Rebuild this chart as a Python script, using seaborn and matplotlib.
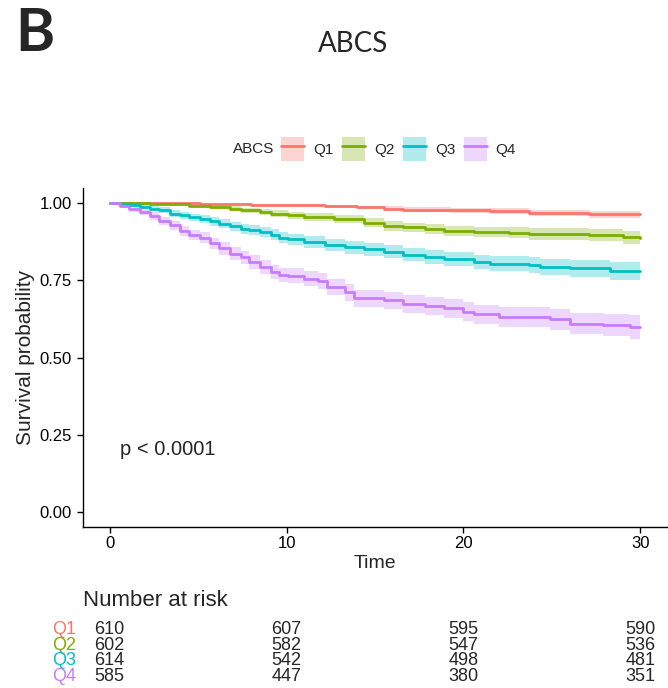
import numpy as np
import pandas as pd
import matplotlib
matplotlib.use("Agg")
import matplotlib.pyplot as plt
from matplotlib.patches import Patch
from matplotlib.lines import Line2D
from matplotlib.colors import to_rgba
import seaborn as sns

# ---- Kaplan-Meier estimates by ABCS quartile ----
groups = ["Q1", "Q2", "Q3", "Q4"]
colors = ["#F8766D", "#7CAE00", "#00BFC4", "#C77CFF"]

q1_time = [0, 5.1, 8.0, 10.0, 12.2, 14.0, 15.5, 16.6, 19.3, 21.5, 23.7, 27.1, 30]
q1_surv = [1.0, 0.997, 0.996, 0.995, 0.990, 0.987, 0.983, 0.980, 0.978, 0.975, 0.969, 0.965, 0.965]
q1_ci = [0, 0.002, 0.003, 0.003, 0.005, 0.006, 0.007, 0.008, 0.008, 0.009, 0.010, 0.011, 0.012]

q2_time = [0, 2.3, 3.1, 4.5, 5.7, 6.8, 7.4, 8.5, 9.1, 10.1, 11.0, 12.7, 14.4, 15.5, 16.6,
           17.8, 18.9, 20.6, 22.6, 23.7, 27.1, 29.0, 30]
q2_surv = [1.0, 0.999, 0.997, 0.992, 0.989, 0.983, 0.978, 0.972, 0.967, 0.962, 0.956, 0.949,
           0.938, 0.927, 0.922, 0.918, 0.911, 0.908, 0.905, 0.900, 0.897, 0.890, 0.889]
q2_ci = [0, 0.001, 0.003, 0.005, 0.006, 0.007, 0.008, 0.009, 0.010, 0.011, 0.012, 0.013,
         0.014, 0.015, 0.016, 0.016, 0.017, 0.017, 0.018, 0.019, 0.020, 0.022, 0.024]

q3_time = [0, 0.6, 1.1, 1.7, 2.3, 2.8, 3.4, 4.0, 4.5, 5.1, 5.7, 6.2, 6.8, 7.4, 7.9, 8.5, 9.1,
           9.6, 10.1, 11.0, 12.2, 13.3, 14.4, 15.5, 16.6, 17.8, 18.9, 20.6, 21.5, 23.7, 24.3,
           26.0, 28.3, 30]
q3_surv = [1.0, 0.997, 0.994, 0.989, 0.983, 0.978, 0.967, 0.962, 0.955, 0.949, 0.942, 0.934,
           0.926, 0.918, 0.913, 0.908, 0.899, 0.888, 0.884, 0.875, 0.864, 0.857, 0.851, 0.843,
           0.834, 0.826, 0.819, 0.810, 0.804, 0.800, 0.793, 0.789, 0.782, 0.782]
q3_ci = [0, 0.003, 0.005, 0.006, 0.008, 0.009, 0.010, 0.011, 0.012, 0.013, 0.014, 0.015,
         0.015, 0.016, 0.016, 0.017, 0.017, 0.018, 0.018, 0.019, 0.020, 0.020, 0.021, 0.021,
         0.022, 0.022, 0.023, 0.024, 0.024, 0.025, 0.026, 0.027, 0.029, 0.031]

q4_time = [0, 0.6, 1.1, 1.7, 2.3, 2.8, 3.4, 4.0, 4.5, 5.1, 5.7, 6.2, 6.8, 7.4, 7.9, 8.5, 9.1,
           9.6, 10.1, 11.0, 11.8, 12.3, 13.3, 13.8, 15.5, 16.6, 17.8, 18.9, 20.0, 20.6, 22.0,
           24.9, 26.0, 27.9, 29.4, 30]
q4_surv = [1.0, 0.992, 0.981, 0.972, 0.959, 0.942, 0.929, 0.910, 0.897, 0.888, 0.870, 0.854,
           0.837, 0.826, 0.810, 0.794, 0.778, 0.769, 0.765, 0.756, 0.748, 0.729, 0.711, 0.692,
           0.686, 0.675, 0.668, 0.659, 0.648, 0.640, 0.631, 0.624, 0.610, 0.605, 0.599, 0.599]
q4_ci = [0, 0.005, 0.008, 0.010, 0.012, 0.013, 0.015, 0.016, 0.017, 0.018, 0.019, 0.020,
         0.020, 0.021, 0.022, 0.022, 0.023, 0.023, 0.024, 0.025, 0.025, 0.026, 0.027, 0.027,
         0.028, 0.029, 0.029, 0.030, 0.031, 0.031, 0.032, 0.034, 0.035, 0.036, 0.038, 0.040]

# Number at risk at the x-axis breaks
risk_times = [0, 10, 20, 30]
risk_q1 = [610, 607, 595, 590]
risk_q2 = [602, 582, 547, 536]
risk_q3 = [614, 542, 498, 481]
risk_q4 = [585, 447, 380, 351]

x_ticks = [0, 10, 20, 30]
y_ticks = [0.00, 0.25, 0.50, 0.75, 1.00]
p_label = "p < 0.0001"

series = {
    "Q1": (q1_time, q1_surv, q1_ci),
    "Q2": (q2_time, q2_surv, q2_ci),
    "Q3": (q3_time, q3_surv, q3_ci),
    "Q4": (q4_time, q4_surv, q4_ci),
}
risk = {"Q1": risk_q1, "Q2": risk_q2, "Q3": risk_q3, "Q4": risk_q4}

frames = []
for g, (t, s, c) in series.items():
    frames.append(pd.DataFrame({"time": t, "surv": s, "ci": c, "strata": g}))
df = pd.concat(frames, ignore_index=True)
df["lower"] = df["surv"] - df["ci"]
df["upper"] = np.minimum(df["surv"] + df["ci"], 1.0)

# ---- style ----
sns.set_style("ticks")
plt.rcParams["font.family"] = ["Liberation Sans", "DejaVu Sans"]
plt.rcParams["axes.linewidth"] = 1.0

W, H = 668, 688
fig = plt.figure(figsize=(W / 100, H / 100), dpi=100)

def fx(px):
    return px / W

def fy(py):
    return 1 - py / H

ax = fig.add_axes([fx(83), fy(527), fx(667) - fx(83), fy(188) - fy(527)])

palette = dict(zip(groups, colors))
for g in groups:
    sub = df[df["strata"] == g]
    ax.fill_between(sub["time"], sub["lower"], sub["upper"], step="post",
                    color=palette[g], alpha=0.3, linewidth=0)

sns.lineplot(data=df, x="time", y="surv", hue="strata", palette=palette,
             estimator=None, sort=False, drawstyle="steps-post", linewidth=2.0,
             legend=False, ax=ax)

ax.set_xlim(-1.5, 31.5)
ax.set_ylim(-0.05, 1.05)
ax.set_xticks(x_ticks)
ax.set_yticks(y_ticks)
ax.set_yticklabels([f"{v:.2f}" for v in y_ticks])
ax.tick_params(axis="both", length=4.3, width=1.0, labelsize=12, colors="black",
               labelcolor="black")
ax.tick_params(axis="y", pad=3.6)
ax.tick_params(axis="x", pad=2)
ax.set_xlabel("Time", fontsize=14, labelpad=3)
ax.set_ylabel("Survival probability", fontsize=15, labelpad=3)
for side in ["top", "right"]:
    ax.spines[side].set_visible(False)
for side in ["left", "bottom"]:
    ax.spines[side].set_color("black")

ax.text(0.6, 0.2, p_label, fontsize=14.5, ha="left", va="center")

# ---- legend ----
fig.text(fx(233), fy(149), "ABCS", fontsize=11, ha="left", va="center")
handles = [(Patch(facecolor=to_rgba(c, 0.3), edgecolor="none"),
            Line2D([], [], color=c, linewidth=2.0)) for c in colors]
fig.legend(handles, groups, loc="center left", bbox_to_anchor=(fx(281), fy(149)),
           ncol=4, frameon=False, fontsize=11, handlelength=1.5, handleheight=1.95,
           handletextpad=0.6, columnspacing=0.55, borderpad=0, borderaxespad=0)

# ---- titles ----
fig.text(fx(15), fy(34), "B", fontsize=43, fontweight="bold", family="Lato",
         ha="left", va="center")
fig.text(fx(353), fy(44), "ABCS", fontsize=20, family="Lato", ha="center", va="center")

# ---- risk table ----
fig.text(fx(83), fy(600), "Number at risk", fontsize=16, ha="left", va="center")
rax = fig.add_axes([fx(83), fy(681.7), fx(667) - fx(83), fy(620.3) - fy(681.7)])
rax.set_xlim(-1.5, 31.5)
rax.set_ylim(4.5, 0.5)
for i, g in enumerate(groups):
    for t, n in zip(risk_times, risk[g]):
        rax.text(t, i + 1, str(n), fontsize=13, ha="center", va="center_baseline")
rax.set_yticks(range(1, 5))
rax.set_yticklabels(groups, fontsize=13)
for lab, c in zip(rax.get_yticklabels(), colors):
    lab.set_color(c)
rax.tick_params(axis="y", length=0, pad=5.3)
rax.set_xticks([])
for s in rax.spines.values():
    s.set_visible(False)
rax.patch.set_alpha(0)

fig.savefig("out.png", dpi=100)
